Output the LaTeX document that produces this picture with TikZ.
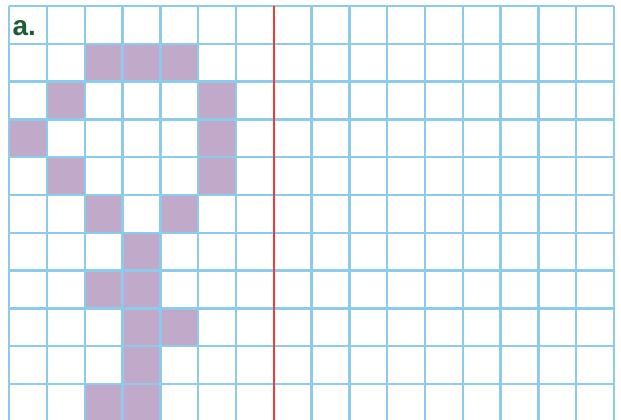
\documentclass[tikz,border=0pt]{standalone}
\usepackage{fontspec}
\setsansfont{Liberation Sans}
\usepackage{xcolor}
\definecolor{gridblue}{HTML}{8DCBEC}
\definecolor{cellpurple}{HTML}{C1A9C9}
\definecolor{marginred}{HTML}{EE3D32}
\definecolor{labelgreen}{HTML}{1D5B34}

\begin{document}
\begin{tikzpicture}[x=1cm,y=1cm,
  cell/.style={fill=cellpurple},
  gridline/.style={draw=gridblue,line width=1.8pt}]
  \useasboundingbox (0,0) rectangle (16.43,-11.11);
  \clip (0,0) rectangle (16.43,-11.11);
  \begin{scope}[shift={(0.246,-0.159)}]
    \foreach \c/\r in {2/1,3/1,4/1,1/2,5/2,0/3,5/3,1/4,5/4,2/5,4/5,
                       3/6,2/7,3/7,3/8,4/8,3/9,2/10,3/10}
      \path[cell] (\c,-\r) rectangle ++(1,-1);
    \draw[gridline] (0,-12) grid (16,0);
    \draw[marginred,line width=1.5pt] (7,0) -- (7,-12);
    \node[anchor=base west,inner sep=0pt,text=labelgreen,
          font=\sffamily\bfseries\fontsize{21}{21}\selectfont]
      (label) at (0.08,-0.77) {a.};
  \end{scope}
\end{tikzpicture}
\end{document}
